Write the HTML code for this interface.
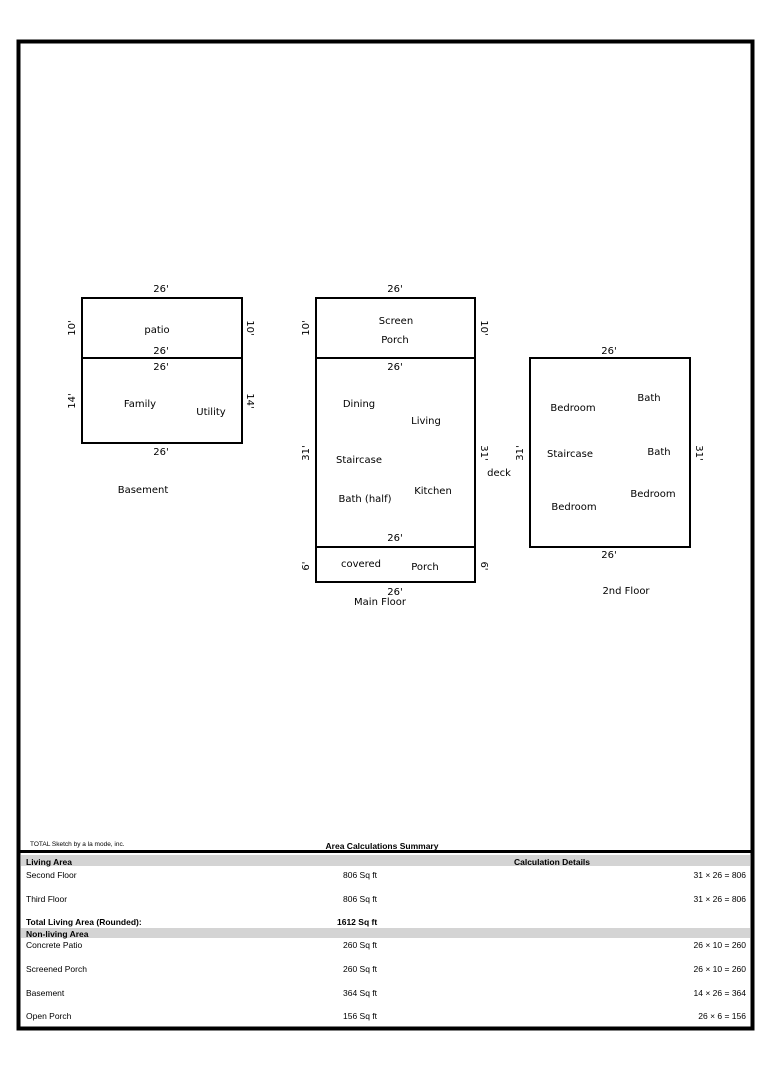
<!DOCTYPE html>
<html><head><style>
html,body{margin:0;padding:0;background:#fff;}
svg{display:block;}
</style></head><body>
<svg width="768" height="1072" xmlns="http://www.w3.org/2000/svg">
<rect x="0" y="0" width="768" height="1072" fill="#fff"/>
<rect x="18.5" y="41.5" width="734" height="987" fill="none" stroke="#000" stroke-width="4"/>
<line x1="18" y1="851.5" x2="753" y2="851.5" stroke="#000" stroke-width="3"/>
<rect x="21" y="855" width="729" height="11" fill="#d4d4d4"/>
<rect x="21" y="928" width="729" height="10" fill="#d4d4d4"/>
<g fill="none" stroke="#000" stroke-width="2">
<rect x="82" y="298" width="160" height="60"/>
<rect x="82" y="358" width="160" height="85"/>
<rect x="316" y="298" width="159" height="60"/>
<rect x="316" y="358" width="159" height="189"/>
<rect x="316" y="547" width="159" height="35"/>
<rect x="530" y="358" width="160" height="189"/>
</g>
<g font-family="DejaVu Sans, Verdana, sans-serif" font-size="10" fill="#000" text-anchor="middle">
<text x="161" y="292">26'</text>
<text x="157" y="333">patio</text>
<text x="161" y="354">26'</text>
<text x="161" y="370">26'</text>
<text x="140" y="407">Family</text>
<text x="211" y="415">Utility</text>
<text x="161" y="455">26'</text>
<text x="143" y="493">Basement</text>
<text x="395" y="292">26'</text>
<text x="396" y="324">Screen</text>
<text x="395" y="343">Porch</text>
<text x="395" y="370">26'</text>
<text x="359" y="407">Dining</text>
<text x="426" y="424">Living</text>
<text x="359" y="463">Staircase</text>
<text x="499" y="476">deck</text>
<text x="365" y="502">Bath (half)</text>
<text x="433" y="494">Kitchen</text>
<text x="395" y="541">26'</text>
<text x="361" y="567">covered</text>
<text x="425" y="570">Porch</text>
<text x="395" y="595">26'</text>
<text x="380" y="605">Main Floor</text>
<text x="609" y="354">26'</text>
<text x="573" y="411">Bedroom</text>
<text x="649" y="401">Bath</text>
<text x="570" y="457">Staircase</text>
<text x="659" y="455">Bath</text>
<text x="653" y="497">Bedroom</text>
<text x="574" y="510">Bedroom</text>
<text x="609" y="558">26'</text>
<text x="626" y="594">2nd Floor</text>
<text transform="translate(75,328) rotate(-90)">10'</text>
<text transform="translate(75,401) rotate(-90)">14'</text>
<text transform="translate(309,328) rotate(-90)">10'</text>
<text transform="translate(309,453) rotate(-90)">31'</text>
<text transform="translate(309,566) rotate(-90)">6'</text>
<text transform="translate(523,453) rotate(-90)">31'</text>
<text transform="translate(247,328) rotate(90)">10'</text>
<text transform="translate(247,401) rotate(90)">14'</text>
<text transform="translate(481,328) rotate(90)">10'</text>
<text transform="translate(481,453) rotate(90)">31'</text>
<text transform="translate(481,566) rotate(90)">6'</text>
<text transform="translate(696,453) rotate(90)">31'</text>
</g>
<g font-family="Liberation Sans, Arial, sans-serif" font-size="8.5" fill="#000">
<text x="30" y="846" font-size="6.5">TOTAL Sketch by a la mode, inc.</text>
<text x="382" y="849" text-anchor="middle" font-weight="bold">Area Calculations Summary</text>
<text x="26" y="865" font-weight="bold">Living Area</text>
<text x="552" y="865" text-anchor="middle" font-weight="bold">Calculation Details</text>
<text x="26" y="878">Second Floor</text><text x="343" y="878">806 Sq ft</text><text x="746" y="878" text-anchor="end">31 × 26 =  806</text>
<text x="26" y="902">Third Floor</text><text x="343" y="902">806 Sq ft</text><text x="746" y="902" text-anchor="end">31 × 26 =  806</text>
<text x="26" y="925" font-weight="bold">Total Living Area (Rounded):</text><text x="337" y="925" font-weight="bold">1612 Sq ft</text>
<text x="26" y="937" font-weight="bold">Non-living Area</text>
<text x="26" y="948">Concrete Patio</text><text x="343" y="948">260 Sq ft</text><text x="746" y="948" text-anchor="end">26 × 10 =  260</text>
<text x="26" y="972">Screened Porch</text><text x="343" y="972">260 Sq ft</text><text x="746" y="972" text-anchor="end">26 × 10 =  260</text>
<text x="26" y="996">Basement</text><text x="343" y="996">364 Sq ft</text><text x="746" y="996" text-anchor="end">14 × 26 =  364</text>
<text x="26" y="1019">Open Porch</text><text x="343" y="1019">156 Sq ft</text><text x="746" y="1019" text-anchor="end">26 × 6   =  156</text>
</g>
</svg>
</body></html>
